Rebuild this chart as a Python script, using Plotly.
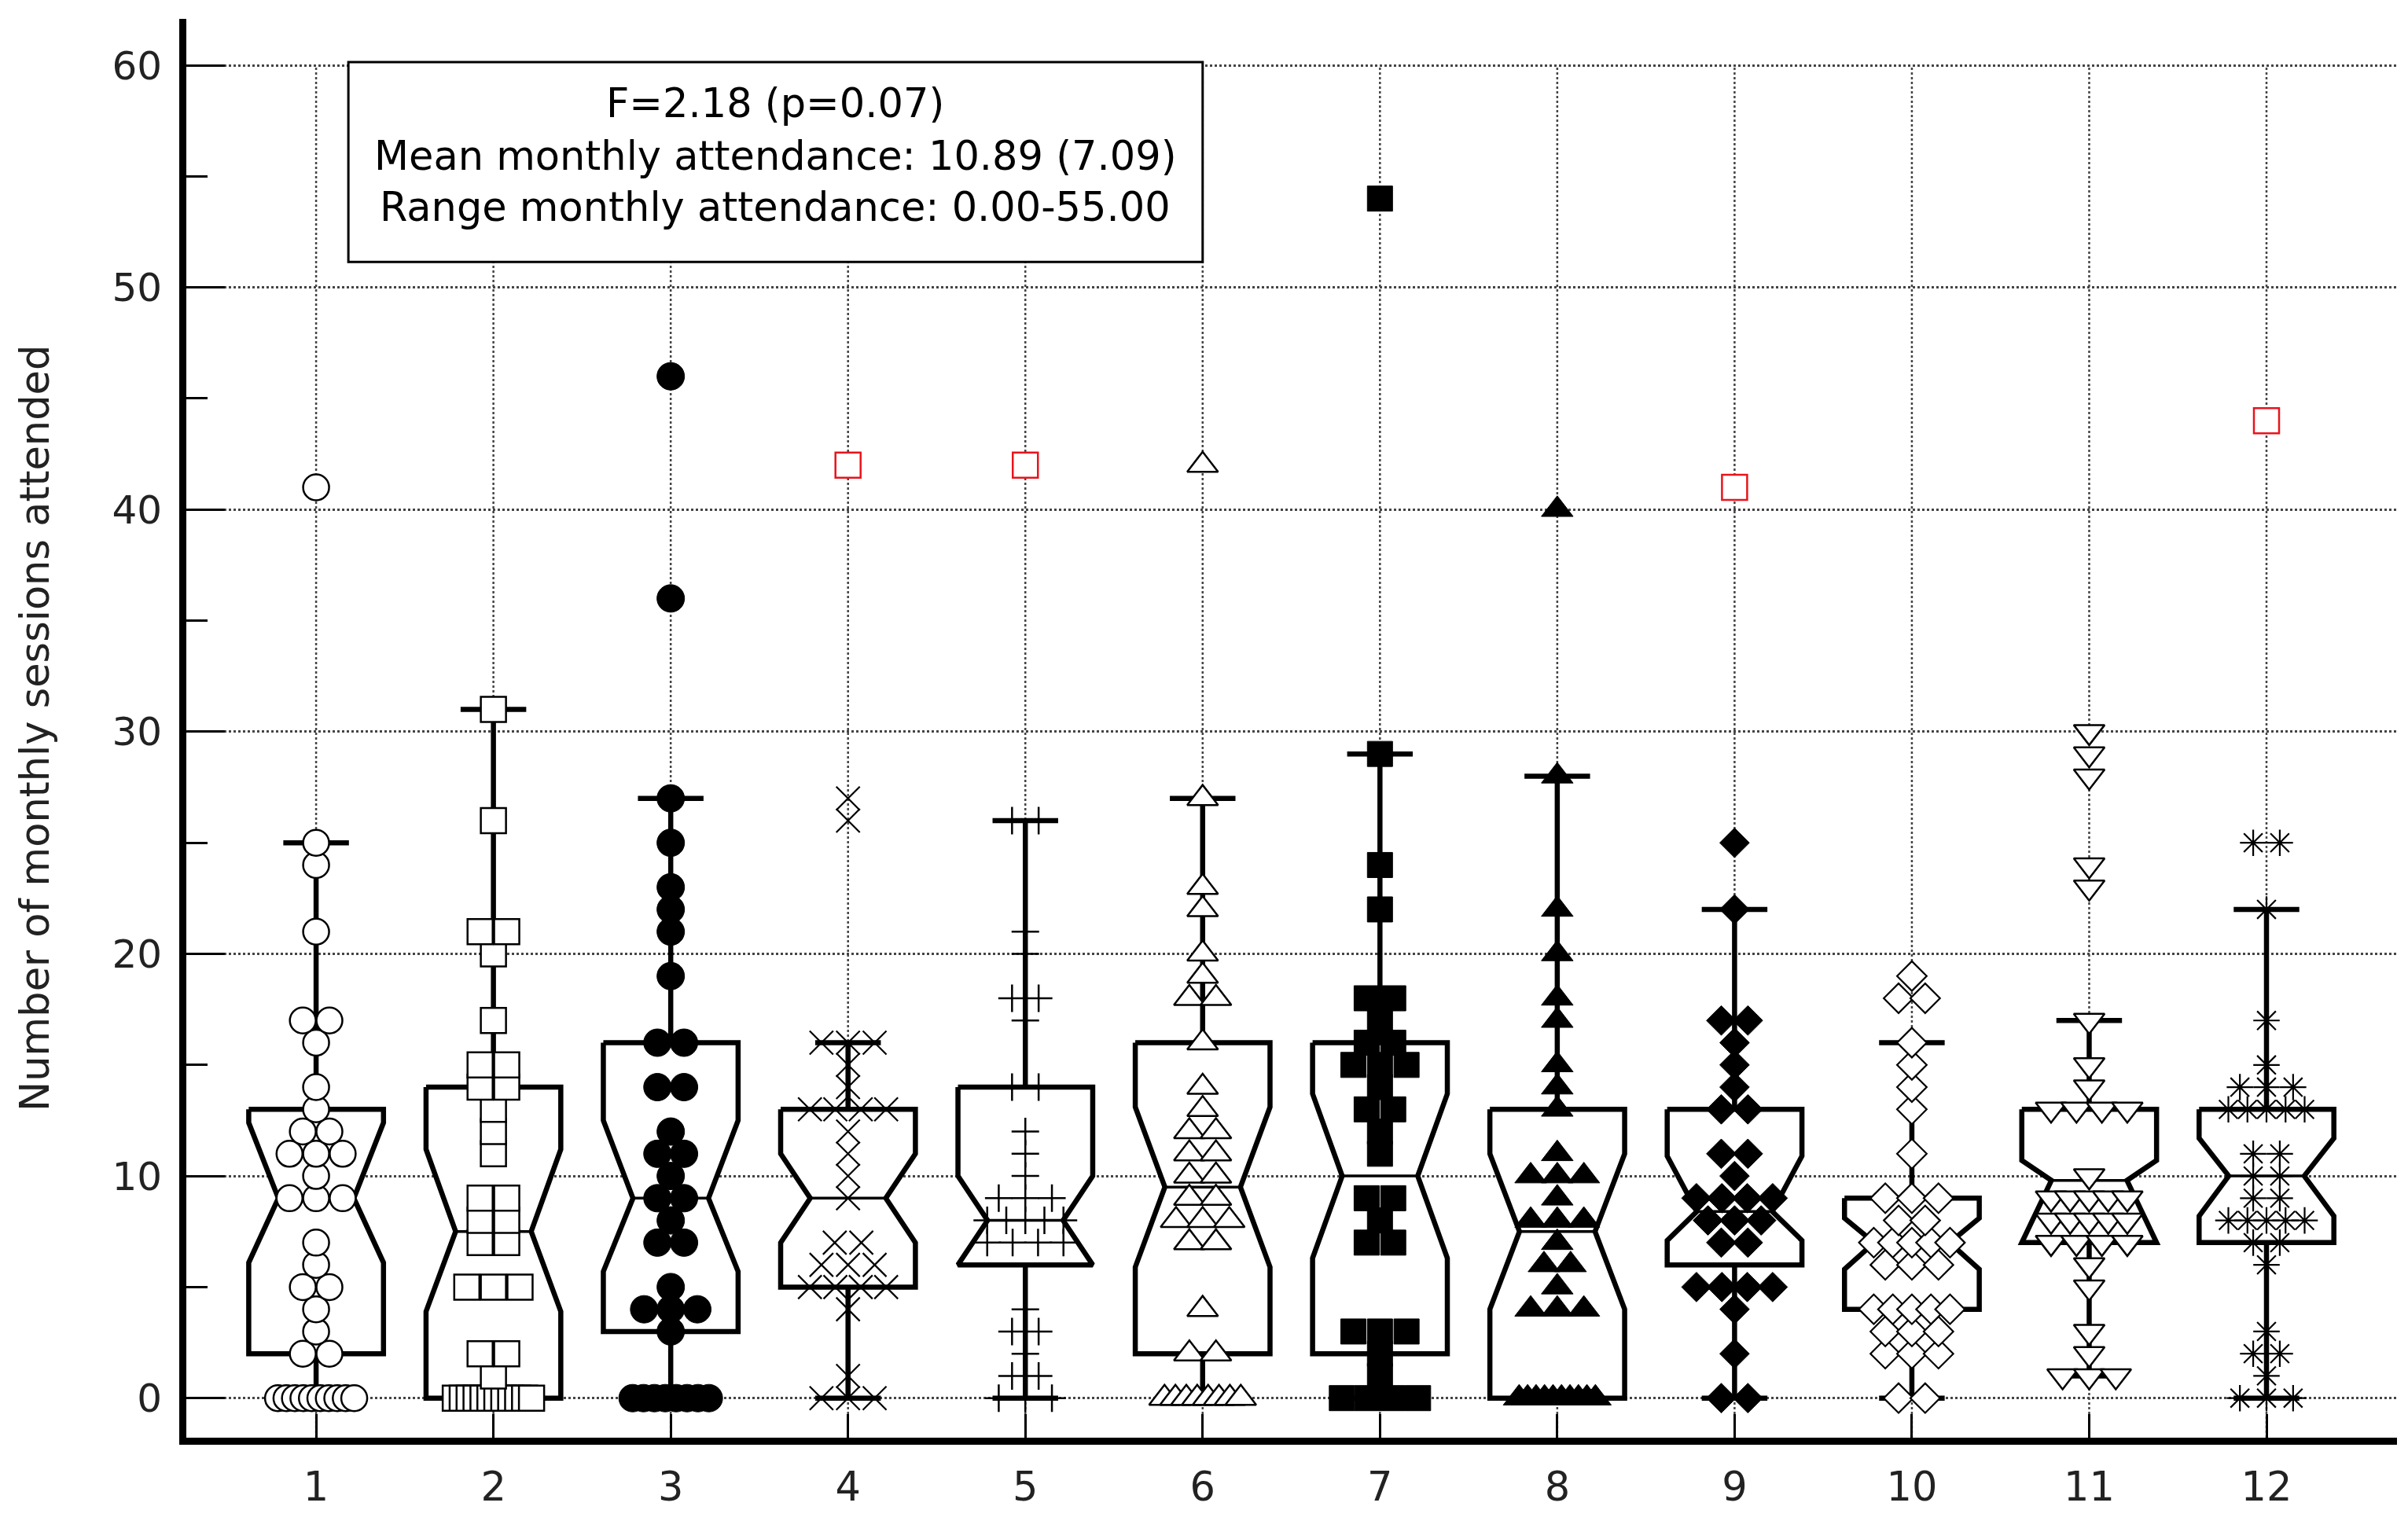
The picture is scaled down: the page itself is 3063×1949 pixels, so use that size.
import plotly.graph_objects as go
from collections import Counter

# ---------------- data ----------------
groups = [1, 2, 3, 4, 5, 6, 7, 8, 9, 10, 11, 12]
tick_labels = [str(g) for g in groups]

g01 = [0, 0, 0, 0, 0, 0, 0, 0, 0, 0, 2, 2, 3, 4, 5, 5, 6, 7, 9, 9, 9, 10, 11, 11, 11, 12, 12, 13, 14, 16, 17, 17, 21, 24, 25, 41]
g02 = [0, 0, 0, 0, 0, 0, 0, 0, 0, 0, 0, 0, 1, 2, 2, 5, 5, 5, 7, 7, 8, 8, 9, 9, 11, 12, 13, 14, 14, 15, 15, 17, 20, 21, 21, 26, 31]
g03 = [0, 0, 0, 0, 0, 0, 0, 0, 3, 4, 4, 4, 5, 7, 7, 8, 9, 9, 10, 11, 11, 12, 14, 14, 16, 16, 19, 21, 22, 23, 25, 27, 36, 46]
g04 = [0, 0, 0, 1, 4, 5, 5, 5, 5, 6, 6, 6, 7, 7, 9, 10, 11, 12, 13, 13, 13, 13, 14, 15, 16, 16, 16, 26, 27]
g05 = [0, 0, 0, 1, 1, 2, 3, 3, 4, 7, 7, 7, 7, 8, 8, 8, 8, 8, 9, 9, 9, 10, 11, 12, 14, 14, 17, 18, 18, 20, 21, 26, 26]
g06 = [0, 0, 0, 0, 0, 0, 0, 0, 2, 2, 4, 7, 7, 8, 8, 8, 9, 9, 10, 10, 11, 11, 12, 12, 13, 14, 16, 18, 18, 19, 20, 22, 23, 27, 42]
g07 = [0, 0, 0, 0, 1, 2, 3, 3, 3, 7, 7, 8, 9, 9, 11, 12, 13, 13, 14, 15, 15, 15, 16, 16, 17, 18, 18, 22, 24, 29, 54]
g08 = [0, 0, 0, 0, 0, 0, 0, 0, 0, 0, 4, 4, 4, 5, 6, 6, 7, 8, 8, 8, 9, 10, 10, 10, 11, 13, 14, 15, 17, 18, 20, 22, 28, 40]
g09 = [0, 0, 2, 4, 5, 5, 5, 5, 7, 7, 8, 8, 8, 9, 9, 9, 9, 10, 11, 11, 13, 13, 14, 15, 16, 17, 17, 22, 25]
g10 = [0, 0, 2, 2, 2, 3, 3, 3, 4, 4, 4, 4, 4, 6, 6, 6, 7, 7, 7, 7, 7, 8, 8, 9, 9, 9, 11, 13, 14, 15, 16, 18, 18, 19]
g11 = [1, 1, 1, 2, 3, 5, 6, 7, 7, 7, 7, 8, 8, 8, 8, 8, 9, 9, 9, 9, 9, 10, 13, 13, 13, 13, 14, 15, 17, 23, 24, 28, 29, 30]
g12 = [0, 0, 0, 1, 2, 2, 3, 6, 7, 7, 8, 8, 8, 8, 8, 9, 9, 10, 10, 11, 11, 13, 13, 13, 13, 13, 14, 14, 14, 15, 17, 22, 25, 25]
group_values = [g01, g02, g03, g04, g05, g06, g07, g08, g09, g10, g11, g12]

# box statistics
q1 = [2, 0, 3, 5, 6, 2, 2, 0, 6, 4, 7, 7]
q3 = [13, 14, 16, 13, 14, 16, 16, 13, 13, 9, 13, 13]
median = [9, 7.5, 9, 9, 8, 9.5, 10, 7.5, 8.4, 7, 9.8, 10]
notch_lo = [6.1, 3.9, 5.7, 7, 6, 5.9, 6.3, 4, 7.1, 5.8, 7, 8.2]
notch_hi = [12.4, 11.2, 12.5, 11, 10, 13.1, 13.7, 11, 10.9, 8.1, 10.7, 11.7]
whisker_lo = [0, 0, 0, 0, 0, 0, 0, 0, 0, 0, 1, 0]
whisker_hi = [25, 31, 27, 16, 26, 27, 29, 28, 22, 16, 17, 22]

# far outliers shown as red squares
red_groups = [4, 5, 9, 12]
red_values = [42, 42, 41, 44]

info_lines = ["F=2.18 (p=0.07)",
              "Mean monthly attendance: 10.89 (7.09)",
              "Range monthly attendance: 0.00-55.00"]
y_title = "Number of monthly sessions attended"

# ---------------- styles ----------------
FONT = "DejaVu Sans"
marker_styles = [
    dict(symbol="circle", color="white", size=33, lw=2.5),
    dict(symbol="square", color="white", size=32, lw=2.5),
    dict(symbol="circle", color="black", size=35, lw=1),
    dict(symbol="x-thin", color="black", size=30, lw=2.2),
    dict(symbol="cross-thin", color="black", size=25, lw=2.5),
    dict(symbol="triangle-up", color="white", size=34, lw=2.5),
    dict(symbol="square", color="black", size=32, lw=1),
    dict(symbol="triangle-up", color="black", size=35, lw=1),
    dict(symbol="diamond", color="black", size=29, lw=1),
    dict(symbol="diamond", color="white", size=29, lw=2.2),
    dict(symbol="triangle-down", color="white", size=34, lw=2.5),
    dict(symbol="asterisk", color="black", size=28, lw=2.2),
]
HW = 0.38       # half box width (category units)
NW = 0.213      # half width at notch apex
CW = 0.185      # half cap width
STEP = 0.15     # horizontal spacing of tied points
MAXSPAN = 0.43  # max spread of a row of tied points

XR = [0.268, 12.736]
YR = [-1.78, 62.09]


def dodge(vals, center):
    xs, ys = [], []
    for v, n in sorted(Counter(vals).items()):
        s = STEP if n == 1 else min(STEP, MAXSPAN / (n - 1))
        for i in range(n):
            xs.append(center + (i - (n - 1) / 2) * s)
            ys.append(v)
    return xs, ys


fig = go.Figure()

# boxes and whiskers
for i, c in enumerate(groups):
    bx = [c - HW, c + HW, c + HW, c + NW, c + HW, c + HW, c - HW, c - HW, c - NW, c - HW, c - HW]
    by = [q3[i], q3[i], notch_hi[i], median[i], notch_lo[i], q1[i], q1[i], notch_lo[i], median[i], notch_hi[i], q3[i]]
    wx = [c, c, None, c - CW, c + CW, None, c, c, None, c - CW, c + CW]
    wy = [q3[i], whisker_hi[i], None, whisker_hi[i], whisker_hi[i], None,
          q1[i], whisker_lo[i], None, whisker_lo[i], whisker_lo[i]]
    fig.add_trace(go.Scatter(x=wx, y=wy, mode="lines",
                             line=dict(color="black", width=6.5), hoverinfo="skip", showlegend=False))
    fig.add_trace(go.Scatter(x=bx, y=by, mode="lines", fill="toself", fillcolor="white",
                             line=dict(color="black", width=6.5), hoverinfo="skip", showlegend=False))
    fig.add_trace(go.Scatter(x=[c - NW, c + NW], y=[median[i], median[i]], mode="lines",
                             line=dict(color="black", width=3.5), hoverinfo="skip", showlegend=False))

# points
for i, c in enumerate(groups):
    st = marker_styles[i]
    xs, ys = dodge(group_values[i], c)
    fig.add_trace(go.Scatter(
        x=xs, y=ys, mode="markers", showlegend=False,
        marker=dict(symbol=st["symbol"], size=st["size"], color=st["color"],
                    line=dict(color="black", width=st["lw"]))))

fig.add_trace(go.Scatter(
    x=red_groups, y=red_values, mode="markers", showlegend=False,
    marker=dict(symbol="square", size=32, color="white", line=dict(color="#e8141c", width=2.5))))

# vertical dotted guides at each category
shapes = []
for c in groups:
    shapes.append(dict(type="line", xref="x", yref="y", x0=c, x1=c, y0=YR[0], y1=60,
                       line=dict(color="#444444", width=2.5, dash="dot"), layer="between"))
# info box
shapes.append(dict(type="rect", xref="x", yref="y", x0=1.182, x1=6.0, y0=51.15, y1=60.14,
                   line=dict(color="black", width=3), fillcolor="white", layer="between"))

annotations = []
for txt, yy in zip(info_lines, [58.27, 55.93, 53.63]):
    annotations.append(dict(x=3.59, y=yy, xref="x", yref="y", text=txt, showarrow=False,
                            font=dict(family=FONT, size=51, color="black"),
                            xanchor="center", yanchor="middle"))
annotations.append(dict(x=-0.0685, y=0.5, xref="paper", yref="paper", text=y_title,
                        showarrow=False, textangle=-90,
                        font=dict(family=FONT, size=51, color="#222222"),
                        xanchor="center", yanchor="middle"))

fig.update_layout(
    width=3063, height=1949,
    margin=dict(l=229, r=22, t=16, b=128),
    paper_bgcolor="white", plot_bgcolor="white",
    shapes=shapes, annotations=annotations,
    font=dict(family=FONT),
    xaxis=dict(range=XR, tickvals=groups, ticktext=tick_labels,
               ticks="inside", ticklen=30, tickwidth=3, tickcolor="black",
               showline=True, linewidth=9, linecolor="black",
               showgrid=False, zeroline=False, ticklabelstandoff=10,
               tickfont=dict(family=FONT, size=51, color="#222222")),
    yaxis=dict(range=YR, tickvals=[0, 10, 20, 30, 40, 50, 60],
               ticks="inside", ticklen=49, tickwidth=3, tickcolor="black",
               minor=dict(tickvals=[5, 15, 25, 35, 45, 55], ticks="inside", ticklen=27,
                          tickwidth=3, tickcolor="black", showgrid=False),
               showline=True, linewidth=9, linecolor="black",
               showgrid=True, gridcolor="#444444", griddash="dot", gridwidth=2.5,
               zeroline=False, ticklabelstandoff=12,
               tickfont=dict(family=FONT, size=50, color="#222222")),
)

fig.write_html("out.html")
